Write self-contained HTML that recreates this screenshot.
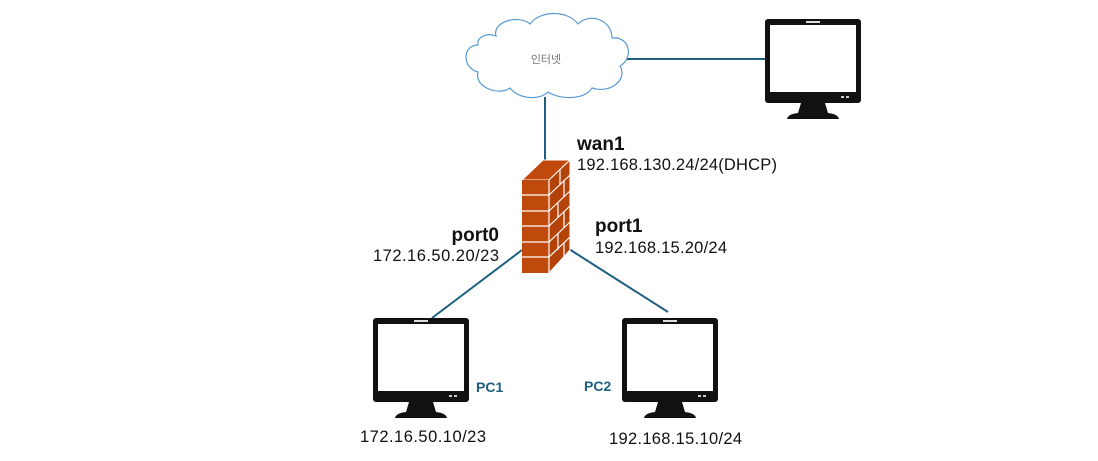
<!DOCTYPE html>
<html><head><meta charset="utf-8"><style>
html,body{margin:0;padding:0;background:#fff;}
svg{display:block;font-family:"Liberation Sans","Noto Sans CJK KR",sans-serif;}
</style></head><body>
<svg width="1098" height="461" viewBox="0 0 1098 461">
<defs>
<g id="mon">
<rect x="0" y="0" width="96" height="84" rx="3" fill="#111"/>
<rect x="5" y="6" width="86" height="67" fill="#fff"/>
<rect x="41" y="2" width="14" height="2" fill="#ddd"/>
<rect x="76" y="77" width="3" height="2" fill="#ccc"/>
<rect x="81" y="77" width="3" height="2" fill="#ccc"/>
<path d="M36 84 L60 84 L63 94 Q73 95 74 100 L22 100 Q23 95 33 94 Z" fill="#111"/>
</g>
</defs>
<g stroke="#1d5f80" stroke-width="2" fill="none">
<line x1="545" y1="97" x2="545" y2="160"/>
<line x1="626" y1="59" x2="765" y2="59"/>
<line x1="522" y1="250" x2="432" y2="318"/>
<line x1="569" y1="249" x2="668" y2="312"/>
</g>
<path d="M478 45 C462 45 462 68 478 72 C474 88 500 96 510 88 C520 100 540 100 548 92 C560 100 585 100 592 88 C610 94 628 80 620 66 C634 58 630 36 612 38 C612 20 590 12 578 24 C568 10 540 10 530 24 C518 14 492 22 496 36 C486 32 476 38 478 45 Z" fill="#fff" stroke="#5b9bd5" stroke-width="1.2"/>
<text x="546" y="63" font-size="11" fill="#777" text-anchor="middle">인터넷</text>
<polygon points="522,180 549,180 570,160 543,160" fill="#c0490c" stroke="#fff" stroke-width="1"/>
<polygon points="549,180 570,160 570,250 549,273" fill="#b4430a" stroke="#fff" stroke-width="1"/>
<rect x="522" y="180" width="27" height="93" fill="#c0490c"/>
<g stroke="#fff" stroke-width="1.2">
<line x1="522" y1="195" x2="549" y2="195"/><line x1="522" y1="211" x2="549" y2="211"/>
<line x1="522" y1="226" x2="549" y2="226"/><line x1="522" y1="242" x2="549" y2="242"/>
<line x1="522" y1="257" x2="549" y2="257"/>
<line x1="549" y1="195" x2="570" y2="175"/><line x1="549" y1="211" x2="570" y2="191"/>
<line x1="549" y1="226" x2="570" y2="206"/><line x1="549" y1="242" x2="570" y2="222"/>
<line x1="549" y1="257" x2="570" y2="237"/>
<line x1="560" y1="170" x2="560" y2="185"/><line x1="564" y1="181" x2="564" y2="197"/>
<line x1="558" y1="203" x2="558" y2="218"/><line x1="564" y1="212" x2="564" y2="228"/>
<line x1="558" y1="234" x2="558" y2="250"/><line x1="564" y1="243" x2="564" y2="258"/>
<line x1="549" y1="180" x2="549" y2="273"/>
</g>
<use href="#mon" x="765" y="19"/>
<use href="#mon" x="373" y="318"/>
<use href="#mon" x="622" y="318"/>
<g font-size="16.5" fill="#111">
<text x="577" y="150" font-weight="bold" font-size="19">wan1</text>
<text x="577" y="170" textLength="200">192.168.130.24/24(DHCP)</text>
<text x="595" y="232" font-weight="bold" font-size="19">port1</text>
<text x="595" y="253" textLength="132">192.168.15.20/24</text>
<text x="499" y="241" font-weight="bold" font-size="19" text-anchor="end">port0</text>
<text x="373" y="261" textLength="126">172.16.50.20/23</text>
<text x="360" y="442" textLength="126">172.16.50.10/23</text>
<text x="609" y="444" textLength="133">192.168.15.10/24</text>
</g>
<text x="476" y="392" font-size="14" font-weight="bold" fill="#1d5f80">PC1</text>
<text x="584" y="391" font-size="14" font-weight="bold" fill="#1d5f80">PC2</text>
</svg>
</body></html>
